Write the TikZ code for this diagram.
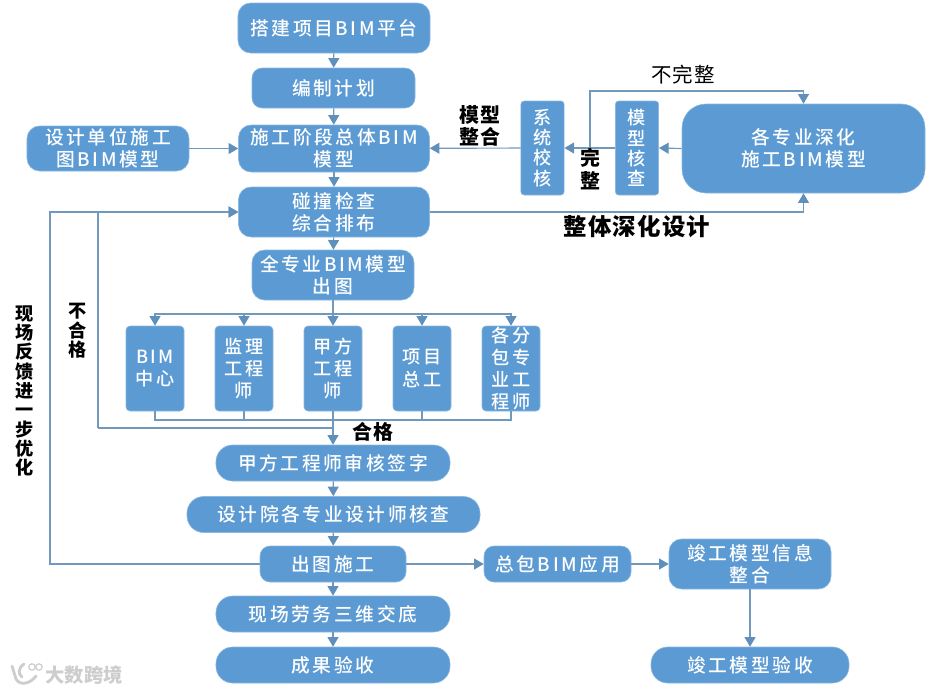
\documentclass[tikz,border=0pt]{standalone}
\usepackage{fontspec}
\setmainfont{Noto Sans CJK SC}
\newfontfamily\boxfont[LetterSpace=14,UprightFont=* Medium]{Noto Sans CJK SC}
\newfontfamily\markfont[LetterSpace=5]{Noto Sans CJK SC}
\usetikzlibrary{arrows.meta}
\definecolor{boxfill}{HTML}{5B9AD3}
\definecolor{boxedge}{HTML}{8DB8E0}
\definecolor{flowline}{HTML}{7099BC}
\definecolor{flowtip}{HTML}{5F8FBB}
\definecolor{stampgray}{HTML}{CDCDCD}
\tikzset{
  card/.style={rectangle, align=center, fill=boxfill, draw=boxedge, line width=0.5pt, text=white, inner sep=0pt, font=\boxfont\fontsize{16}{19}\selectfont},
  pill/.style={card, rounded corners=0.5cm, minimum height=1.08cm},
  plate/.style={card, rounded corners=0.38cm, minimum height=1.5cm},
  tall/.style={card, rounded corners=0.12cm, minimum width=1.74cm, minimum height=2.55cm, font=\boxfont\fontsize{15.5}{19}\selectfont},
  slim/.style={card, rounded corners=0.1cm, minimum width=1.3cm, minimum height=2.82cm, font=\boxfont\fontsize{15.5}{17.2}\selectfont},
  remark/.style={font=\markfont\fontsize{17}{19}\selectfont\bfseries, align=center, inner sep=0pt},
  upright/.style={remark, font=\markfont\fontsize{15.5}{16.5}\selectfont\bfseries},
  flow/.style={-{Triangle[length=2.9mm,width=3.3mm,color=flowtip]}, line width=1pt, draw=flowline},
  link/.style={line width=1pt, draw=flowline}
}
\begin{document}
\begin{tikzpicture}[x=0.03cm,y=-0.03cm]
\useasboundingbox (0,0) rectangle (932,691);

% Main column
\node[plate, minimum width=5.76cm] (platform) at (334,28) {搭建项目BIM平台};
\node[card, rounded corners=0.3cm, minimum width=4.89cm, minimum height=1.2cm] (plan) at (333.5,88) {编制计划};
\node[plate, minimum width=5.73cm, minimum height=1.41cm] (stage) at (334,148.5) {施工阶段总体BIM\\模型};
\node[plate, minimum width=4.86cm, minimum height=1.35cm] (design) at (108,148.5) {设计单位施工\\图BIM模型};
\node[plate, minimum width=5.73cm] (clash) at (334,212) {碰撞检查\\综合排布};
\node[plate, minimum width=4.86cm] (allbim) at (333,275) {全专业BIM模型\\出图};

% Reviewers
\foreach \x/\name/\lab in {155/bimcenter/{BIM\\中心},244/super/{监理\\工程\\师},333/owner/{甲方\\工程\\师},422/chief/{项目\\总工},511/sub/{各分\\包专\\业工\\程师}} {
  \node[tall] (\name) at (\x,368.5) {\lab};
}

\node[pill, minimum width=7.02cm] (sign) at (333,463) {甲方工程师审核签字};
\node[pill, minimum width=8.79cm] (check) at (333.5,514.5) {设计院各专业设计师核查};
\node[card, rounded corners=0.3cm, minimum width=4.38cm, minimum height=1.08cm] (issue) at (333,564) {出图施工};
\node[pill, minimum width=7.02cm] (brief) at (333,614) {现场劳务三维交底};
\node[pill, minimum width=7.02cm] (accept) at (333,665) {成果验收};

% Right side
\node[slim] (syscheck) at (542.5,148) {系\\统\\校\\核};
\node[slim] (modelcheck) at (637,148) {模\\型\\核\\查};
\node[card, rounded corners=0.72cm, minimum width=7.29cm, minimum height=2.67cm] (trades) at (803.5,148.5) {各专业深化\\施工BIM模型};
\node[card, rounded corners=0.3cm, minimum width=4.41cm, minimum height=1.08cm] (general) at (557.5,564) {总包BIM应用};
\node[plate, minimum width=4.86cm] (asbuilt) at (750,564) {竣工模型信息\\整合};
\node[pill, minimum width=5.94cm] (asbuiltok) at (750,665) {竣工模型验收};

% Turning points
\coordinate (fork) at (590,148);
\coordinate (busin) at (333,314);
\coordinate (busout) at (333,420);
\coordinate (failfrom) at (333,428);
\coordinate (failturn) at (98,428);
\coordinate (backturn) at (50,212);

% --- Flow ---
\draw[flow] (platform) -- (plan);
\draw[flow] (plan) -- (stage);
\draw[flow] (stage) -- (clash);
\draw[flow] (clash) -- (allbim);
\draw[flow] (design) -- (stage);
\draw[flow] (syscheck) -- (stage);
\draw[flow] (modelcheck) -- (syscheck);
\draw[flow] (trades.west) -- (modelcheck.east);
% Not complete goes back over the top
\draw[flow] (fork) -- ++(0,-57) -| (trades.north);
\draw[flow] (clash.east) -| (trades.south);
% Drawings out to each reviewer, and back together
\draw[link] (allbim.south) -- (busin);
\foreach \name in {bimcenter,super,owner,chief,sub} {
  \draw[flow] (busin) -| (\name.north);
  \draw[link] (\name.south) |- (busout);
}
\draw[flow] (owner.south) -- (sign.north);
% Failed review and site feedback return to the clash check
\draw[link] (failfrom) -- (failturn);
\draw[flow] (failturn) |- (clash.west);
\draw[flow] (issue.west) -| (backturn) -- (clash.west);
% Lower part
\draw[flow] (sign) -- (check);
\draw[flow] (check) -- (issue);
\draw[flow] (issue) -- (brief);
\draw[flow] (brief) -- (accept);
\draw[flow] (issue) -- (general);
\draw[flow] (general) -- (asbuilt);
\draw[flow] (asbuilt) -- (asbuiltok);

% Labels
\node[remark] (tagmerge) at (480,126) {模型\\整合};
\node[remark] (tagfull) at (590,169) {完\\整};
\node[remark, font=\markfont\fontsize{17.5}{19}\selectfont] (tagpart) at (683,75) {不完整};
\node[remark, font=\markfont\fontsize{20}{22}\selectfont\bfseries] (tagdeep) at (637,227) {整体深化设计};
\node[upright] (tagfail) at (78,331) {不\\合\\格};
\node[remark] (tagpass) at (373,432) {合格};
\node[upright] (tagback) at (25,391) {现\\场\\反\\馈\\进\\一\\步\\优\\化};

% Stamp
\draw[stampgray, line width=2.4pt, line cap=round] (12,666) -- (16,679) .. controls (20,686) and (30,684) .. (36,676);
\draw[stampgray, line width=2.4pt, line cap=round] (24,664) .. controls (18,668) and (18,674) .. (22,677);
\draw[stampgray, line width=1pt] (32,667) circle (3.2) (39,667) circle (3.2);
\node[font=\fontsize{16.5}{18}\selectfont\bfseries, text=stampgray, inner sep=0pt] (stamp) at (84,675) {大数跨境};
\end{tikzpicture}
\end{document}
